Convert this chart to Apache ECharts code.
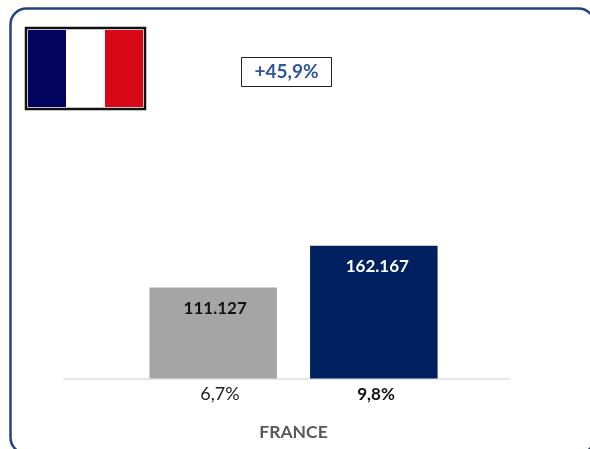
<!DOCTYPE html>
<html><head><meta charset="utf-8">
<style>html,body{margin:0;padding:0;background:#fff}#c{width:590px;height:449px}</style>
<script src="https://cdn.jsdelivr.net/npm/echarts@6/dist/echarts.min.js"></script>
</head><body><div id="c"></div>
<script>
const categories = ['FRANCE'];
const seriesNames = ['Prior', 'Current'];
const valuesPrior = [111127];
const valuesCurrent = [162167];
const valueLabels = ['111.127', '162.167'];
const shareLabels = ['6,7%', '9,8%'];
const changeLabel = '+45,9%';
const FONT = 'Lato, "Noto Sans", sans-serif';

const chart = echarts.init(document.getElementById('c'), null, {renderer: 'canvas'});
chart.setOption({
  animation: false,
  backgroundColor: '#fff',
  grid: [
    {left: 64.5, width: 458, top: 200, height: 178.5},
    {left: 64, width: 445.5, top: 200, height: 178.5}
  ],
  xAxis: [
    {type: 'category', gridIndex: 0, data: categories,
     axisLine: {show: false}, axisTick: {show: false},
     axisLabel: {margin: 45, fontFamily: FONT, fontSize: 17.5, fontWeight: 'bold', color: '#595959'}},
    {type: 'category', gridIndex: 1, data: [''],
     axisLine: {show: true, lineStyle: {color: '#e6e6e6', width: 2}},
     axisTick: {show: false}, axisLabel: {show: false}}
  ],
  yAxis: [
    {type: 'value', gridIndex: 0, min: 0, max: 218000, show: false, splitLine: {show: false}},
    {type: 'value', gridIndex: 1, min: 0, max: 218000, show: false, splitLine: {show: false}}
  ],
  series: [
    {name: seriesNames[0], type: 'bar', data: valuesPrior, barWidth: 127.5, barGap: '26%',
     itemStyle: {color: '#a5a5a5'},
     label: {show: true, position: 'insideTop', distance: 12, offset: [2, 1],
             formatter: () => valueLabels[0], fontFamily: FONT, fontSize: 17, fontWeight: 'bold', color: '#111'}},
    {name: seriesNames[1], type: 'bar', data: valuesCurrent, barWidth: 127.5, barGap: '26%',
     itemStyle: {color: '#002060'},
     label: {show: true, position: 'insideTop', distance: 12, offset: [3.5, 0],
             formatter: () => valueLabels[1], fontFamily: FONT, fontSize: 17, fontWeight: 'bold', color: '#fff'}}
  ],
  graphic: [
    {type: 'rect', shape: {x: 10.5, y: 8.5, width: 584, height: 445, r: 16}, silent: true, z: 0,
     style: {fill: 'none', stroke: '#26437f', lineWidth: 2.5}},
    {type: 'rect', shape: {x: 26, y: 28, width: 119, height: 81}, z: 5,
     style: {fill: '#fff', stroke: '#111', lineWidth: 2.5}},
    {type: 'rect', shape: {x: 28, y: 30, width: 38, height: 77}, z: 6, style: {fill: '#03045e'}},
    {type: 'rect', shape: {x: 105, y: 30, width: 38, height: 77}, z: 6, style: {fill: '#d90816'}},
    {type: 'rect', shape: {x: 241.5, y: 57.5, width: 90, height: 29}, z: 5,
     style: {fill: '#fff', stroke: '#222', lineWidth: 1}},
    {type: 'text', x: 286.5, y: 72, z: 6,
     style: {text: changeLabel, fontFamily: FONT, fontSize: 19, fontWeight: 'bold', fill: '#2f5597', align: 'center', verticalAlign: 'middle'}},
    {type: 'text', x: 220, y: 394.5, z: 6,
     style: {text: shareLabels[0], fontFamily: FONT, fontSize: 18, fill: '#222', align: 'center', verticalAlign: 'middle'}},
    {type: 'text', x: 376, y: 394.5, z: 6,
     style: {text: shareLabels[1], fontFamily: FONT, fontSize: 17, fontWeight: 'bold', fill: '#111', align: 'center', verticalAlign: 'middle'}}
  ]
});
</script></body></html>
